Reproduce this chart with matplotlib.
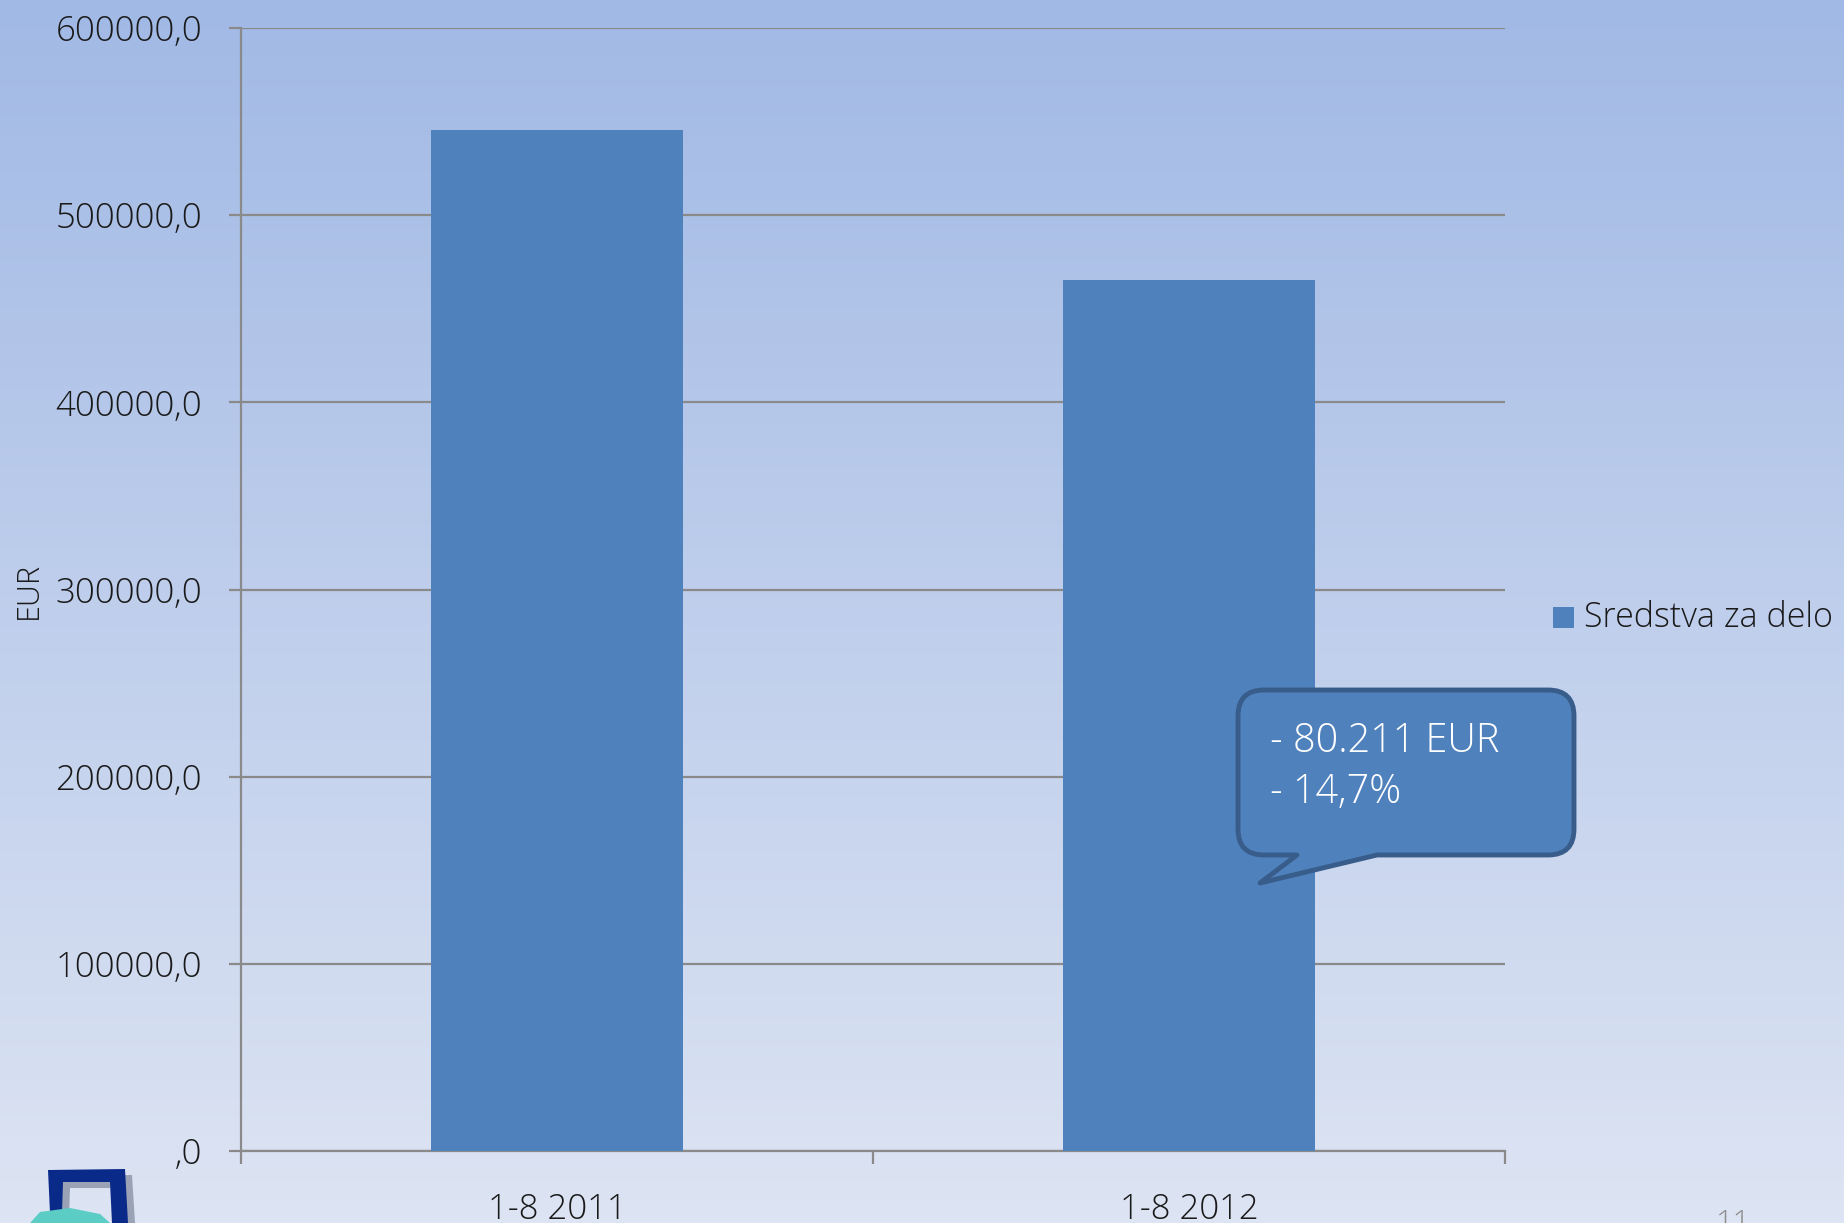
import matplotlib
matplotlib.use('Agg')
import matplotlib.pyplot as plt
import numpy as np
from matplotlib.path import Path
from matplotlib.patches import PathPatch, Rectangle, Polygon

plt.rcParams['font.family'] = ['Open Sans', 'DejaVu Sans']
plt.rcParams['font.weight'] = 'light'

# data
categories = ['1-8 2011', '1-8 2012']
values = [545653.0, 465442.0]
series_name = 'Sredstva za delo'
y_ticks = [0, 100000, 200000, 300000, 400000, 500000, 600000]
y_tick_labels = [',0', '100000,0', '200000,0', '300000,0', '400000,0', '500000,0', '600000,0']
callout_lines = ['- 80.211 EUR', '- 14,7%']

BAR_COLOR = '#4f81bd'
GRID_COLOR = '#8a8a8a'
W, H = 1844, 1223

fig = plt.figure(figsize=(W / 100, H / 100), dpi=100)

# gradient background
bg = fig.add_axes([0, 0, 1, 1], zorder=-10)
top = np.array([0xa1, 0xb9, 0xe5]) / 255.
bot = np.array([0xdd, 0xe4, 0xf3]) / 255.
t = np.linspace(0, 1, 256)[:, None]
grad = top[None, :] * (1 - t) + bot[None, :] * t
bg.imshow(grad[:, None, :], aspect='auto', extent=[0, 1, 0, 1])
bg.set_axis_off()

ax = fig.add_axes([241 / W, 1 - 1151 / H, (1505 - 241) / W, (1151 - 28) / H])
ax.patch.set_alpha(0)

x = np.arange(len(categories))
ax.bar(x, values, width=0.4, color=BAR_COLOR, zorder=3, label=series_name)
ax.set_xlim(-0.5, len(categories) - 0.5)
ax.set_ylim(0, 600000)

ax.set_yticks(y_ticks)
ax.set_yticklabels(y_tick_labels)
ax.yaxis.grid(True, color=GRID_COLOR, lw=1.6, zorder=1)
ax.set_axisbelow(True)

ax.set_xticks(x)
ax.set_xticklabels(categories)
ax.set_xticks([-0.5, 0.5, 1.5], minor=True)
ax.tick_params(axis='x', which='major', length=0, pad=30, labelsize=25, labelcolor='#1a1a1a')
ax.tick_params(axis='x', which='minor', length=9, width=1.6, color=GRID_COLOR, direction='out')
ax.tick_params(axis='y', length=9, width=1.6, color=GRID_COLOR, pad=19, labelsize=25, labelcolor='#1a1a1a')

for s in ['top', 'right']:
    ax.spines[s].set_visible(False)
for s in ['left', 'bottom']:
    ax.spines[s].set_color(GRID_COLOR)
    ax.spines[s].set_linewidth(1.6)

# y axis title, placed at the slide's left edge
fig.text(29 / W, 1 - 590 / H, 'EUR', rotation=90, fontsize=22, color='#1a1a1a',
         ha='center', va='center')

# legend
fig.patches.append(Rectangle((1553 / W, 1 - 628 / H), 21 / W, 21 / H, transform=fig.transFigure,
                             facecolor=BAR_COLOR, edgecolor='none'))
fig.text(1584 / W, 1 - 618 / H, series_name, fontsize=24.5, color='#1a1a1a', va='center', ha='left')

# callout bubble (pixel coords, y downward)
x0, x1, y0, y1, r = 1238, 1574, 690, 855, 26
tb_l, tb_r, tip = 1297, 1377, (1260, 883)
pts = [(x0 + r, y0), (x1 - r, y0), (x1, y0), (x1, y0 + r), (x1, y1 - r), (x1, y1), (x1 - r, y1),
       (tb_r, y1), tip, (tb_l, y1), (x0 + r, y1), (x0, y1), (x0, y1 - r), (x0, y0 + r), (x0, y0),
       (x0 + r, y0), (x0 + r, y0)]
codes = [Path.MOVETO, Path.LINETO, Path.CURVE3, Path.CURVE3, Path.LINETO, Path.CURVE3, Path.CURVE3,
         Path.LINETO, Path.LINETO, Path.LINETO, Path.LINETO, Path.CURVE3, Path.CURVE3, Path.LINETO,
         Path.CURVE3, Path.CURVE3, Path.CLOSEPOLY]
pts = [(px / W, 1 - py / H) for px, py in pts]
bubble = PathPatch(Path(pts, codes), transform=fig.transFigure, facecolor=BAR_COLOR,
                   edgecolor='#385d8a', lw=3.5, joinstyle='round', zorder=5)
fig.patches.append(bubble)
for i, line in enumerate(callout_lines):
    fig.text(1270 / W, 1 - (741 + 51 * i) / H, line, fontsize=28.5, color='white',
             va='center', ha='left', zorder=6)

# page number (cut off)
fig.text(1733 / W, 1 - 1208 / H, '11', fontsize=22, color='#8c8c8c', ha='center', va='top')

# logo fragment bottom-left
shadow = [(56, 1176), (132, 1175), (135, 1223), (119, 1223), (117, 1188), (70, 1188), (69, 1218), (58, 1218)]
fig.patches.append(Polygon([(px / W, 1 - py / H) for px, py in shadow], closed=True,
                           transform=fig.transFigure, facecolor='#9aa3b5', edgecolor='none'))
logo = [(48, 1170), (125, 1169), (128, 1223), (112, 1223), (110, 1182), (63, 1182), (62, 1213), (50, 1213)]
fig.patches.append(Polygon([(px / W, 1 - py / H) for px, py in logo], closed=True,
                           transform=fig.transFigure, facecolor='#0a2a8a', edgecolor='none'))
wave = [(30, 1223), (40, 1212), (70, 1208), (100, 1214), (110, 1223)]
fig.patches.append(Polygon([(px / W, 1 - py / H) for px, py in wave], closed=True,
                           transform=fig.transFigure, facecolor='#5ccdc4', edgecolor='none'))

fig.savefig('out.png', dpi=100)
